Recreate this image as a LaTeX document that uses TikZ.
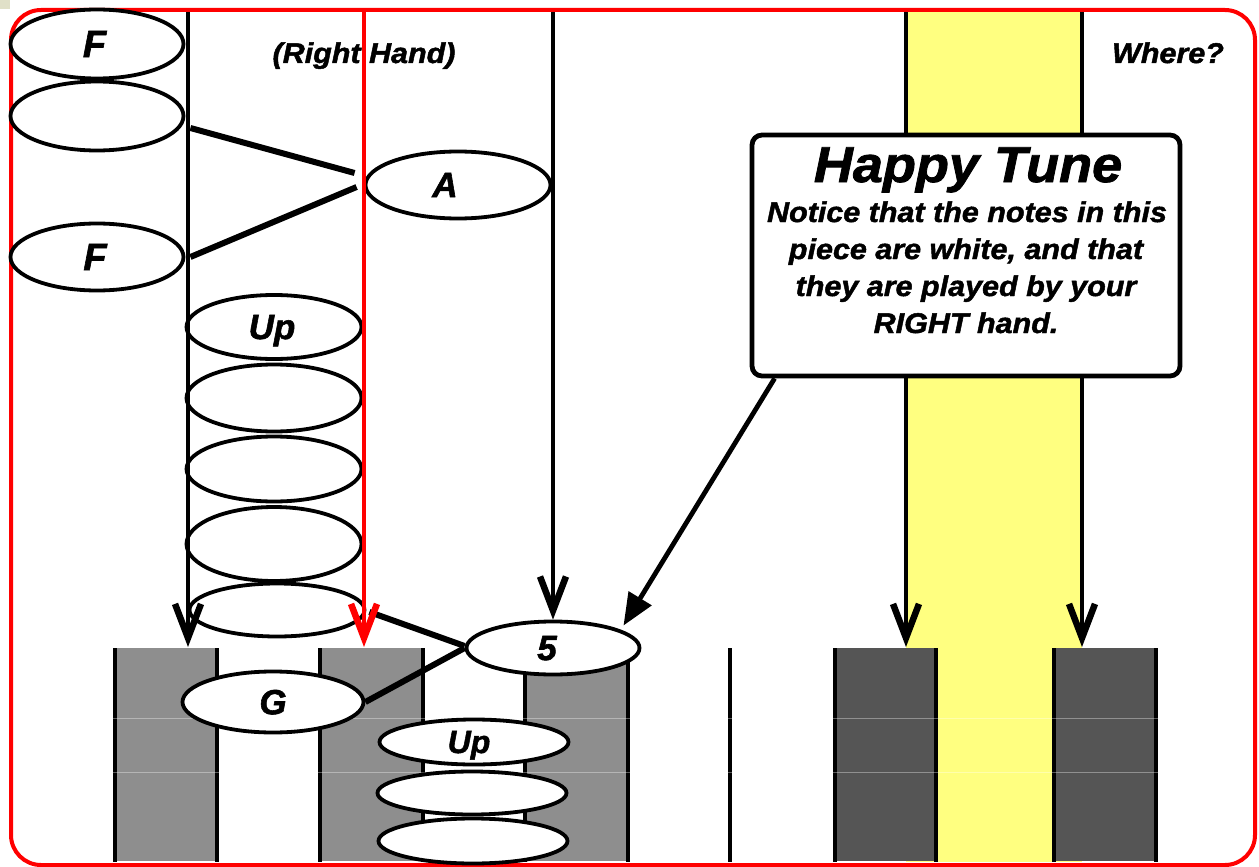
\documentclass[tikz,border=0pt]{standalone}
\usepackage{fontspec}
\setmainfont{Liberation Sans}[BoldItalicFeatures={FakeBold=1.6}]
\newfontfamily\wfont{Liberation Sans}[FakeStretch=1.07,BoldItalicFeatures={FakeBold=1.6}]
\usetikzlibrary{arrows.meta,shapes.geometric}
\definecolor{keygray}{RGB}{142,142,142}
\definecolor{keydark}{RGB}{85,85,85}
\definecolor{band}{RGB}{255,255,128}
\definecolor{cornerbox}{RGB}{224,224,200}
\newcommand\myoffset[2]{\makebox[0pt]{#2\hspace*{#1}}}
\begin{document}
\begin{tikzpicture}[x=1pt,y=-1pt,
  note/.style={ellipse,draw=black,line width=3.8pt,fill=white,inner sep=0pt,text depth=0pt,
    font=\fontsize{35}{38}\selectfont\bfseries\itshape},
  bignote/.style={note,font=\fontsize{38}{42}\selectfont\bfseries\itshape},
  smallnote/.style={note,font=\fontsize{32}{35}\selectfont\bfseries\itshape},
  guide/.style={line width=4.8pt},
  vtip/.style={-{Straight Barb[length=34pt,width=26pt,line width=6.5pt]}},
  tie/.style={line width=6pt},
  keyline/.style={line width=4.8pt},
  gridline/.style={white,opacity=0.35,line width=1pt},
  callout/.style={draw=black,line width=4.8pt,fill=white,rounded corners=10pt,
    minimum width=428pt,minimum height=241pt,inner sep=0pt},
  pointer/.style={line width=4.8pt,-{Triangle[length=32pt,width=26pt]},shorten >=5pt},
  toplabel/.style={anchor=base,inner sep=0pt,font=\wfont\bfseries\itshape\fontsize{28.5}{32}\selectfont},
  titletext/.style={anchor=base,inner sep=0pt,font=\wfont\bfseries\itshape\fontsize{50.5}{54}\selectfont},
  bodytext/.style={anchor=base,inner sep=0pt,font=\wfont\bfseries\itshape\fontsize{28.5}{32}\selectfont},
  frame/.style={red,line width=4pt,rounded corners=30pt}
]
\useasboundingbox (0,0) rectangle (1259,867);
\fill[white] (0,0) rectangle (1259,867);
\fill[cornerbox] (0,0) rectangle (10,9);
% yellow band
\fill[band] (906,10) rectangle (1082,862);
% frame
\draw[frame] (11,10) rectangle (1255,865);
% keys
\fill[keygray] (115,648) rectangle (217,861);
\fill[keygray] (320,648) rectangle (423,861);
\fill[keygray] (525,648) rectangle (628,861);
\fill[keydark] (835,648) rectangle (936,861);
\fill[keydark] (1054,648) rectangle (1156,861);
\foreach \x in {115,217,320,423,525,628,730,835,936,1054,1156}
  \draw[keyline] (\x,648) -- (\x,862);
\draw[gridline] (113,718) -- (1160,718);
\draw[gridline] (113,772) -- (1160,772);
% labels at top
\node[toplabel] (rh) at (364,63) {(Right Hand)};
\node[toplabel] (wh) at (1168,63) {Where?};
% left column
\node[bignote,minimum width=173pt,minimum height=69pt] (L1) at (97,44) {\myoffset{5pt}{F}};
\node[note,minimum width=173pt,minimum height=69pt] (L2) at (97,116) {};
\node[bignote,minimum width=173pt,minimum height=67pt] (L3) at (97,257) {\myoffset{4pt}{F}};
% middle column
\node[note,minimum width=175pt,minimum height=64pt] (M1) at (274,327) {\myoffset{4pt}{Up}};
\node[note,minimum width=175pt,minimum height=67pt] (M2) at (274,398) {};
\node[note,minimum width=175pt,minimum height=65pt] (M3) at (274,469) {};
\node[note,minimum width=175pt,minimum height=74pt] (M4) at (274,544) {};
\node[note,minimum width=175pt,minimum height=53pt] (M5) at (277,610) {};
% A
\node[note,minimum width=185pt,minimum height=67pt] (A) at (458,185) {\myoffset{26pt}{A}};
% 5 and G
\node[note,minimum width=173pt,minimum height=53pt] (five) at (553,648) {\myoffset{12pt}{5}};
\node[note,minimum width=181pt,minimum height=61pt] (G) at (273,702) {G};
% lower stack
\node[smallnote,minimum width=189pt,minimum height=45pt] (U1) at (474,742) {\myoffset{10pt}{Up}};
\node[note,minimum width=189pt,minimum height=43pt] (U2) at (472,793) {};
\node[note,minimum width=189pt,minimum height=45pt] (U3) at (473,841) {};
% ties
\draw[tie] ([xshift=5pt,yshift=-12pt]L2.east) -- ([xshift=-9pt,yshift=12pt]A.west);
\draw[tie] ([xshift=5pt]L3.east) -- ([xshift=-7pt,yshift=-2pt]A.west);
\draw[tie] ([xshift=3pt,yshift=-2pt]M5.east) -- ([yshift=2pt]five.west);
\draw[tie] (G.east) -- (five.west);
% guides with arrows
\draw[guide,vtip] (188,12) -- (188,647);
\draw[guide,red,vtip] (364,12) -- (364,647);
\draw[guide,vtip] (553,12) -- (five.north);
\draw[guide,vtip] (906,12) -- (906,647);
\draw[guide,vtip] (1082,12) -- (1082,647);
% callout
\node[callout] (C) at (966,255.5) {};
\node[titletext] (t0) at (968,182) {Happy Tune};
\node[bodytext] (t1) at (967,222) {Notice that the notes in this};
\node[bodytext] (t2) at (966,259) {piece are white, and that};
\node[bodytext] (t3) at (966,296) {they are played by your};
\node[bodytext] (t4) at (966,333) {RIGHT hand.};
\draw[pointer] ([xshift=25pt]C.south west) -- (five.15);
\end{tikzpicture}
\end{document}
